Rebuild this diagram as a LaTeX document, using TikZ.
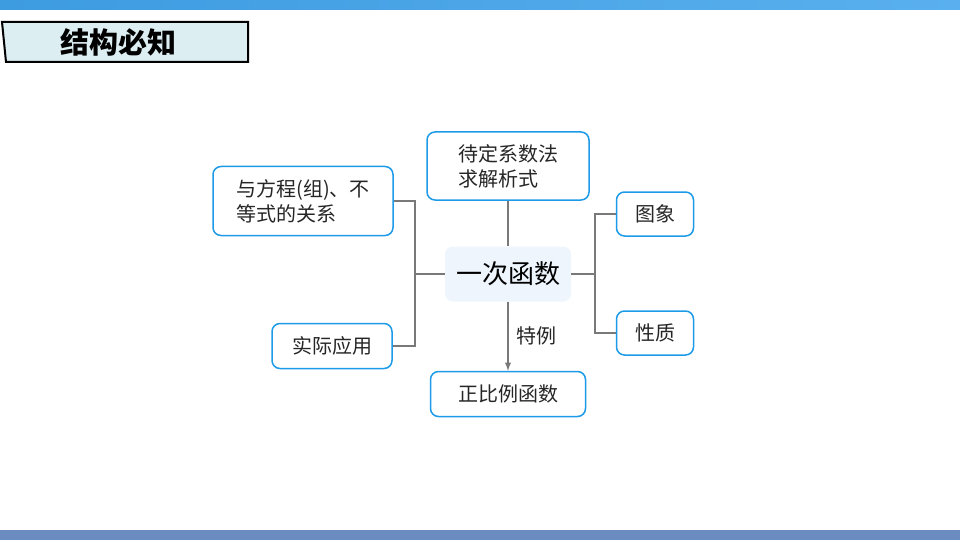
\documentclass[tikz,border=0pt]{standalone}
\usepackage{fontspec}
\setmainfont{Noto Sans CJK SC}
\begin{document}
\begin{tikzpicture}[x=1pt,y=-1pt,
  box/.style={draw=boxblue,line width=1.5pt,rounded corners=8pt,fill=white,align=left,font=\fontsize{20}{25}\selectfont,text=black!85},
  ln/.style={draw=gray!95!black,line width=1.8pt}]
\definecolor{boxblue}{HTML}{1E9BE8}
\definecolor{titlefill}{HTML}{DDEEF3}
\definecolor{centerfill}{HTML}{EEF5FC}
\definecolor{topa}{HTML}{3D9BE0}
\definecolor{topb}{HTML}{5AB0EE}
\definecolor{botbar}{HTML}{6A8CC0}
\path[use as bounding box] (0,0) rectangle (960,540);
\fill[white] (0,0) rectangle (960,540);
\shade[left color=topa,right color=topb] (0,0) rectangle (960,10);
\fill[botbar] (0,530) rectangle (960,540);
\draw[line width=2pt,fill=titlefill] (2,22) -- (248,22) -- (248,62) -- (6,62) -- cycle;
\node[font=\fontsize{29}{32}\selectfont\bfseries] (title) at (118,42) {结构必知};
\node[box,minimum width=162pt,minimum height=68pt] (dd) at (508,166) {待定系数法\\求解析式};
\node[box,minimum width=180pt,minimum height=69pt] (yf) at (303,201) {与方程(组)、不\\等式的关系};
\node[box,minimum width=77pt,minimum height=44pt] (tx) at (655,214) {图象};
\node[fill=centerfill,rounded corners=8pt,minimum width=126pt,minimum height=55pt,font=\fontsize{26}{30}\selectfont] (c) at (508,274) {一次函数};
\node[box,minimum width=77pt,minimum height=44pt] (xz) at (655,333) {性质};
\node[box,minimum width=120pt,minimum height=45pt] (sj) at (332,346) {实际应用};
\node[box,minimum width=155pt,minimum height=45pt] (zb) at (508,394) {正比例函数};
\coordinate (L1) at (415,201); \coordinate (L2) at (415,346); \coordinate (Lm) at (415,274);
\coordinate (R1) at (595,214); \coordinate (R2) at (595,333); \coordinate (Rm) at (595,274);
\draw[ln] (yf.east) -- (L1) -- (L2) -- (sj.east);
\draw[ln] (Lm) -- (c.west);
\draw[ln] (tx.west) -- (R1) -- (R2) -- (xz.west);
\draw[ln] (Rm) -- (c.east);
\draw[ln] (dd.south) -- (c.north);
\draw[ln,-latex] (c.south) -- (zb.north) node[midway,right=4pt,font=\fontsize{20}{24}\selectfont,text=black!85] (ts) {特例};
\end{tikzpicture}
\end{document}
